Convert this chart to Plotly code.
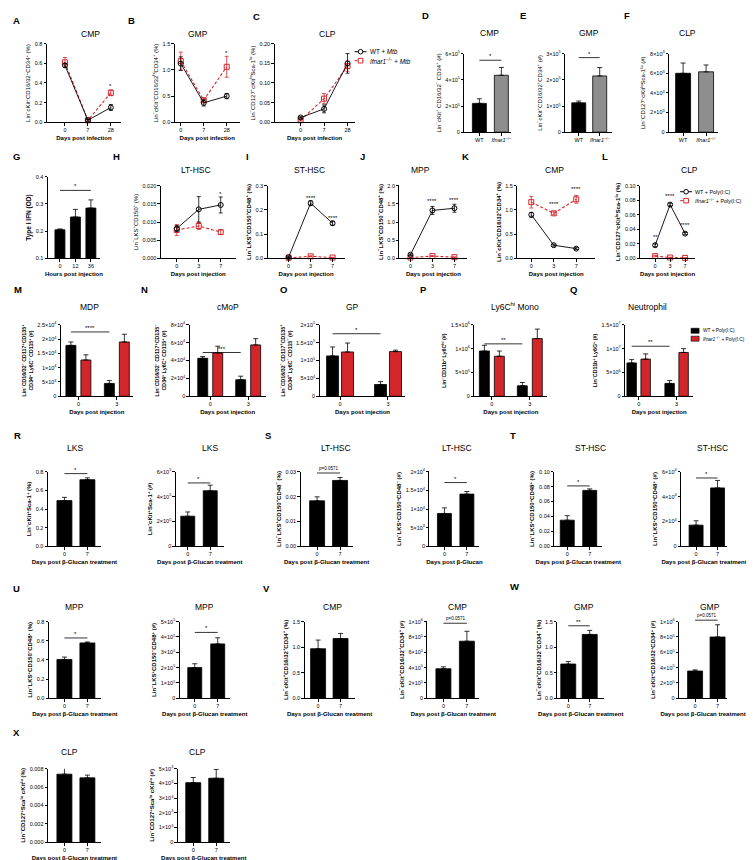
import plotly.graph_objects as go

# ===================== DATA =====================
days_infection = ["0", "7", "28"]
days_injection = ["0", "3", "7"]
hours_injection = ["0", "12", "36"]
days_group = ["0", "3"]
days_glucan = ["0", "7"]
genotypes = ["WT", "<i>Ifnar1</i><sup>−/−</sup>"]

# A-C : Mtb infection, line charts (%)
A_wt = [0.58, 0.02, 0.15]; A_wt_err = [0.02, 0.01, 0.03]
A_ko = [0.61, 0.02, 0.30]; A_ko_err = [0.05, 0.01, 0.03]
A_stars = [(2, 0.37, "*")]
B_wt = [1.12, 0.37, 0.50]; B_wt_err = [0.13, 0.06, 0.05]
B_ko = [1.17, 0.42, 1.06]; B_ko_err = [0.17, 0.04, 0.20]
B_stars = [(2, 1.33, "*")]
C_wt = [0.012, 0.034, 0.150]; C_wt_err = [0.002, 0.010, 0.025]
C_ko = [0.005, 0.060, 0.143]; C_ko_err = [0.002, 0.013, 0.013]
C_stars = []

# D-F : counts (#)
D_vals = [2.2e5, 4.35e5]; D_err = [0.35e5, 0.6e5]; D_sig = (0, 1, 5.5e5, "*")
E_vals = [1.12e5, 2.15e5]; E_err = [0.07e5, 0.32e5]; E_sig = (0, 1, 2.85e5, "*")
F_vals = [6.0e3, 6.15e3]; F_err = [1.05e3, 0.7e3]

# G : type I IFN
G_vals = [0.205, 0.252, 0.285]; G_err = [0.003, 0.028, 0.030]; G_sig = (0, 2, 0.35, "*")

# H-L : Poly(I:C) line charts
H_wt = [0.0082, 0.0135, 0.0147]; H_wt_err = [0.0008, 0.0035, 0.0022]
H_ko = [0.0078, 0.0089, 0.0072]; H_ko_err = [0.0015, 0.0010, 0.0006]
H_stars = [(2, 0.0178, "*")]
I_wt = [0.005, 0.228, 0.145]; I_wt_err = [0.002, 0.010, 0.008]
I_ko = [0.002, 0.008, 0.003]; I_ko_err = [0.001, 0.002, 0.001]
I_stars = [(1, 0.25, "****"), (2, 0.165, "****")]
J_wt = [0.10, 1.32, 1.38]; J_wt_err = [0.02, 0.11, 0.11]
J_ko = [0.02, 0.06, 0.03]; J_ko_err = [0.01, 0.01, 0.01]
J_stars = [(1, 1.58, "****"), (2, 1.62, "****")]
K_wt = [0.90, 0.27, 0.20]; K_wt_err = [0.05, 0.02, 0.02]
K_ko = [1.16, 0.93, 1.22]; K_ko_err = [0.12, 0.03, 0.08]
K_stars = [(1, 1.12, "****"), (2, 1.43, "****")]
L_wt = [0.018, 0.074, 0.034]; L_wt_err = [0.002, 0.002, 0.0015]
L_ko = [0.003, 0.001, 0.0005]; L_ko_err = [0.001, 0.0005, 0.0003]
L_stars = [(0, 0.030, "**"), (1, 0.086, "****"), (2, 0.046, "****")]

# M-Q : grouped bars (WT vs Ifnar1-/- + Poly(I:C))
M_wt = [1.78e4, 0.45e4]; M_wt_err = [0.12e4, 0.10e4]
M_ko = [1.27e4, 1.90e4]; M_ko_err = [0.18e4, 0.27e4]; M_sig = (2.25e4, "****")
N_wt = [4.25e4, 1.85e4]; N_wt_err = [0.20e4, 0.40e4]
N_ko = [4.85e4, 5.75e4]; N_ko_err = [0.75e4, 0.70e4]; N_sig = (4.9e4, "***")
O_wt = [1.13e5, 0.33e5]; O_wt_err = [0.25e5, 0.08e5]
O_ko = [1.24e5, 1.25e5]; O_ko_err = [0.25e5, 0.04e5]; O_sig = (1.75e5, "*")
P_wt = [0.95e6, 0.22e6]; P_wt_err = [0.12e6, 0.07e6]
P_ko = [0.84e6, 1.21e6]; P_ko_err = [0.11e6, 0.20e6]; P_sig = (1.1e6, "**")
Q_wt = [0.70e7, 0.27e7]; Q_wt_err = [0.07e7, 0.06e7]
Q_ko = [0.78e7, 0.92e7]; Q_ko_err = [0.11e7, 0.08e7]; Q_sig = (1.05e7, "**")

# R-X : beta-glucan
R1_vals = [0.49, 0.715]; R1_err = [0.035, 0.02]; R1_sig = (0, 1, 0.78, "*")
R2_vals = [2.42e5, 4.47e5]; R2_err = [0.34e5, 0.45e5]; R2_sig = (0, 1, 5.1e5, "*")
S1_vals = [0.0183, 0.0265]; S1_err = [0.0016, 0.0012]; S1_sig = (0, 1, 0.0295, "p=0.0571")
S2_vals = [0.88e4, 1.40e4]; S2_err = [0.15e4, 0.07e4]; S2_sig = (0, 1, 1.71e4, "*")
T1_vals = [0.035, 0.075]; T1_err = [0.006, 0.002]; T1_sig = (0, 1, 0.081, "*")
T2_vals = [1.7e4, 4.7e4]; T2_err = [0.35e4, 0.6e4]; T2_sig = (0, 1, 5.5e4, "*")
U1_vals = [0.405, 0.578]; U1_err = [0.025, 0.01]; U1_sig = (0, 1, 0.63, "*")
U2_vals = [2.0e5, 3.55e5]; U2_err = [0.25e5, 0.4e5]; U2_sig = (0, 1, 4.3e5, "*")
V1_vals = [0.97, 1.17]; V1_err = [0.17, 0.10]
V2_vals = [3.85e5, 7.45e5]; V2_err = [0.25e5, 1.3e5]; V2_sig = (0, 1, 0.98e6, "p=0.0571")
W1_vals = [0.67, 1.25]; W1_err = [0.05, 0.08]; W1_sig = (0, 1, 1.42, "**")
W2_vals = [3.55e5, 8.0e5]; W2_err = [0.15e5, 1.6e5]; W2_sig = (0, 1, 1.02e6, "p=0.0571")
X1_vals = [0.0074, 0.0070]; X1_err = [0.0010, 0.0003]
X2_vals = [4.05e3, 4.35e3]; X2_err = [0.35e3, 0.6e3]

# y tick values
A_yt = [0, 0.2, 0.4, 0.6, 0.8]
B_yt = [0, 0.5, 1.0, 1.5]
C_yt = [0, 0.05, 0.10, 0.15, 0.20]
D_yt = [0, 2e5, 4e5, 6e5]
E_yt = [0, 1e5, 2e5, 3e5]
F_yt = [0, 2e3, 4e3, 6e3, 8e3]
G_yt = [0.1, 0.2, 0.3, 0.4]
H_yt = [0, 0.005, 0.010, 0.015, 0.020]
I_yt = [0, 0.1, 0.2, 0.3]
J_yt = [0, 0.5, 1.0, 1.5, 2.0]
K_yt = [0, 0.5, 1.0, 1.5]
L_yt = [0, 0.02, 0.04, 0.06, 0.08, 0.10]
M_yt = [0, 5e3, 1e4, 1.5e4, 2e4, 2.5e4]
N_yt = [0, 2e4, 4e4, 6e4, 8e4]
O_yt = [0, 5e4, 1e5, 1.5e5, 2e5]
P_yt = [0, 5e5, 1e6, 1.5e6]
Q_yt = [0, 5e6, 1e7, 1.5e7]
R1_yt = [0, 0.2, 0.4, 0.6, 0.8]
R2_yt = [0, 2e5, 4e5, 6e5]
S1_yt = [0, 0.01, 0.02, 0.03]
S2_yt = [0, 5e3, 1e4, 1.5e4, 2e4]
T1_yt = [0, 0.02, 0.04, 0.06, 0.08, 0.10]
T2_yt = [0, 2e4, 4e4, 6e4]
U1_yt = [0, 0.2, 0.4, 0.6, 0.8]
U2_yt = [0, 1e5, 2e5, 3e5, 4e5, 5e5]
V1_yt = [0, 0.5, 1.0, 1.5]
V2_yt = [0, 2e5, 4e5, 6e5, 8e5, 1e6]
W1_yt = [0, 0.5, 1.0, 1.5]
W2_yt = [0, 2e5, 4e5, 6e5, 8e5, 1e6]
X1_yt = [0, 0.002, 0.004, 0.006, 0.008]
X2_yt = [0, 1e3, 2e3, 3e3, 4e3, 5e3]

# ===================== STYLE / HELPERS =====================
W, H = 754, 860
FONT = "Arial, 'Liberation Sans', Helvetica, sans-serif"
RED = "#d3262b"
GREY = "#8e8e8e"
SUP_M = "<sup>−</sup>"; SUP_P = "<sup>+</sup>"; SUP_LO = "<sup>lo</sup>"; SUP_HI = "<sup>hi</sup>"


def dec(vals, nd):
    return [f"{v:.{nd}f}" for v in vals]


def sci(vals):
    out = []
    for v in vals:
        if v == 0:
            out.append("0")
            continue
        e = 0
        m = v
        while m >= 10:
            m /= 10.0
            e += 1
        while m < 1:
            m *= 10.0
            e -= 1
        out.append(f"{m:g}×10<sup>{e}</sup>")
    return out


fig = go.Figure()
axes_layout = {}
axes_info = {}
shapes = []
annotations = []
counter = [0]


def new_axes(xdom, ydom, xr, yr, xtv, xtt, ytv, ytt, ytitle, xtitle=None, ybold=True, ysize=6.0):
    counter[0] += 1
    n = counter[0]
    s = "" if n == 1 else str(n)
    tickfont = dict(size=5.5, family=FONT, color="black")
    common = dict(showline=True, linecolor="black", linewidth=0.8, ticks="outside", ticklen=2.5,
                  tickwidth=0.8, tickcolor="black", showgrid=False, zeroline=False,
                  tickfont=tickfont, fixedrange=True, tickmode="array")
    xa = dict(common, domain=[xdom[0] / W, xdom[1] / W], range=xr, anchor="y" + s,
              tickvals=xtv, ticktext=xtt)
    if xtitle:
        xa["title"] = dict(text=f"<b>{xtitle}</b>", font=dict(size=6.0, family=FONT, color="black"),
                           standoff=3)
    yt = f"<b>{ytitle}</b>" if ybold else ytitle
    ya = dict(common, domain=[1 - ydom[1] / H, 1 - ydom[0] / H], range=yr, anchor="x" + s,
              tickvals=ytv, ticktext=ytt,
              title=dict(text=yt, font=dict(size=ysize, family=FONT, color="black"), standoff=3))
    axes_layout["xaxis" + s] = xa
    axes_layout["yaxis" + s] = ya
    axes_info["x" + s] = (ydom, yr)
    return "x" + s, "y" + s


def to_paper_y(xa, y):
    (ytop, ybot), (y0, y1) = axes_info[xa]
    py = ybot - (y - y0) / (y1 - y0) * (ybot - ytop)
    return 1 - py / H


def add_sig(xa, ya, xl, xr_, y, text):
    yp = to_paper_y(xa, y)
    shapes.append(dict(type="line", xref=xa, yref="paper", x0=xl, x1=xr_, y0=yp, y1=yp,
                       line=dict(color="black", width=0.8)))
    small = text.startswith("p=")
    annotations.append(dict(x=(xl + xr_) / 2, y=yp, xref=xa, yref="paper", text=text, showarrow=False,
                            yanchor="bottom", yshift=-1 if not small else 0,
                            font=dict(size=4.5 if small else 6, family=FONT, color="black")))


def line_panel(spec, cats, wt, wt_e, ko, ko_e, yt, ytt, ytitle, xtitle, stars, ybold=False):
    x0, x1, p0, step, ytop, ybot = spec
    xr = [(x0 - p0) / step, (x1 - p0) / step]
    xs = list(range(len(cats)))
    xa, ya = new_axes((x0, x1), (ytop, ybot), xr, [yt[0], yt[-1]], xs, cats, yt, ytt,
                      ytitle, xtitle, ybold)
    fig.add_trace(go.Scatter(x=xs, y=ko, mode="lines+markers", xaxis=xa, yaxis=ya,
                             line=dict(color=RED, width=1.1, dash="3px,2px"),
                             marker=dict(symbol="square-open", size=5, color=RED,
                                         line=dict(width=1, color=RED)),
                             error_y=dict(type="data", array=ko_e, color=RED, thickness=0.8, width=2),
                             showlegend=False, cliponaxis=False))
    fig.add_trace(go.Scatter(x=xs, y=wt, mode="lines+markers", xaxis=xa, yaxis=ya,
                             line=dict(color="black", width=0.9),
                             marker=dict(symbol="circle-open", size=5, color="black",
                                         line=dict(width=1, color="black")),
                             error_y=dict(type="data", array=wt_e, color="black", thickness=0.8, width=2),
                             showlegend=False, cliponaxis=False))
    for (i, y, t) in stars:
        annotations.append(dict(x=i, y=to_paper_y(xa, y), xref=xa, yref="paper", text=t,
                                showarrow=False, yanchor="middle",
                                font=dict(size=6, family=FONT, color="black")))


def bar_panel(spec, cats, vals, errs, colors, yt, ytt, ytitle, xtitle=None, sig=None, ybold=True,
              ysize=6.0):
    x0, x1, c0, step, bw, ytop, ybot = spec
    xr = [(x0 - c0) / step, (x1 - c0) / step]
    xs = list(range(len(cats)))
    xa, ya = new_axes((x0, x1), (ytop, ybot), xr, [yt[0], yt[-1]], xs, cats, yt, ytt,
                      ytitle, xtitle, ybold, ysize)
    fig.add_trace(go.Bar(x=xs, y=vals, width=bw / step, xaxis=xa, yaxis=ya, showlegend=False,
                         marker=dict(color=colors, line=dict(color="black", width=0.8)),
                         error_y=dict(type="data", symmetric=False, array=errs,
                                      arrayminus=[0] * len(vals), color="black",
                                      thickness=0.8, width=2.5)))
    if sig:
        add_sig(xa, ya, sig[0], sig[1], sig[2], sig[3])


def group_panel(spec, cats, wt, wt_e, ko, ko_e, yt, ytt, ytitle, xtitle, sig):
    x0, x1, g0, g1, bw, off, ytop, ybot = spec
    step = g1 - g0
    xr = [(x0 - g0) / step, (x1 - g0) / step]
    xs = list(range(len(cats)))
    w = bw / step
    d = off / step
    xa, ya = new_axes((x0, x1), (ytop, ybot), xr, [yt[0], yt[-1]], xs, cats, yt, ytt,
                      ytitle, xtitle, True, 5.3)
    for vals, errs, col, o in ((wt, wt_e, "black", -d), (ko, ko_e, RED, d)):
        fig.add_trace(go.Bar(x=xs, y=vals, width=w, offset=o - w / 2, xaxis=xa, yaxis=ya,
                             showlegend=False,
                             marker=dict(color=col, line=dict(color="black", width=0.8)),
                             error_y=dict(type="data", symmetric=False, array=errs,
                                          arrayminus=[0] * len(vals), color="black",
                                          thickness=0.8, width=2.5)))
    add_sig(xa, ya, -d, 1 - d, sig[0], sig[1])


def title(text, x, y, size=8.5):
    annotations.append(dict(x=x / W, y=1 - y / H, xref="paper", yref="paper", text=text,
                            showarrow=False, xanchor="center", yanchor="middle",
                            font=dict(size=size, family=FONT, color="black")))


def letter(text, x, y):
    annotations.append(dict(x=x / W, y=1 - y / H, xref="paper", yref="paper", text=f"<b>{text}</b>",
                            showarrow=False, xanchor="left", yanchor="middle",
                            font=dict(size=9.5, family=FONT, color="black")))


def legend_line(x, y, color, symbol, dash, text, size=6.3):
    shapes.append(dict(type="line", xref="paper", yref="paper", x0=(x - 6) / W, x1=(x + 6) / W,
                       y0=1 - y / H, y1=1 - y / H,
                       line=dict(color=color, width=1, dash="dot" if dash else "solid")))
    shapes.append(dict(type=symbol, xref="paper", yref="paper", xsizemode="pixel", ysizemode="pixel",
                       xanchor=x / W, yanchor=1 - y / H, x0=-2.3, x1=2.3, y0=-2.3, y1=2.3,
                       fillcolor="white", line=dict(color=color, width=1)))
    annotations.append(dict(x=(x + 7) / W, y=1 - y / H, xref="paper", yref="paper", text=text,
                            showarrow=False, xanchor="left", yanchor="middle",
                            font=dict(size=size, family=FONT, color="black")))


def legend_box(x, y, color, text):
    shapes.append(dict(type="rect", xref="paper", yref="paper", xsizemode="pixel", ysizemode="pixel",
                       xanchor=x / W, yanchor=1 - y / H, x0=-4, x1=4, y0=-2.5, y1=2.5,
                       fillcolor=color, line=dict(color="black", width=0.6)))
    annotations.append(dict(x=(x + 6) / W, y=1 - y / H, xref="paper", yref="paper", text=text,
                            showarrow=False, xanchor="left", yanchor="middle",
                            font=dict(size=4.8, family=FONT, color="black")))


# ===================== LABEL TEXTS =====================
lab_cmp = f"Lin{SUP_M}cKit{SUP_P}CD16/32{SUP_P}CD34{SUP_P}"
lab_gmp_hi = f"Lin{SUP_M}cKit{SUP_P}CD16/32{SUP_HI}CD34{SUP_P}"
lab_clp = f"Lin{SUP_M}CD127{SUP_P}cKit{SUP_LO}Sca-1{SUP_LO}"
lab_lt = f"Lin{SUP_M}LKS{SUP_P}CD150{SUP_P}CD48{SUP_M}"
lab_st = f"Lin{SUP_M}LKS{SUP_P}CD150{SUP_P}CD48{SUP_P}"
lab_mpp = f"Lin{SUP_M}LKS{SUP_P}CD150{SUP_M}CD48{SUP_P}"
x_inf = "Days post infection"
x_inj = "Days post injection"
x_glu = "Days post β-Glucan treatment"

# ===================== ROW 1 =====================
line_panel((39, 113, 57, 23, 33, 112), days_infection, A_wt, A_wt_err, A_ko, A_ko_err,
           A_yt, dec(A_yt, 1), lab_cmp + " (%)", x_inf, A_stars)
line_panel((167, 232, 173, 23, 33, 112), days_infection, B_wt, B_wt_err, B_ko, B_ko_err,
           B_yt, dec(B_yt, 1), lab_gmp_hi + " (%)", x_inf, B_stars)
line_panel((267, 347, 293, 23.5, 33, 112), days_infection, C_wt, C_wt_err, C_ko, C_ko_err,
           C_yt, dec(C_yt, 2), lab_clp + " (%)", x_inf, C_stars)
bar_panel((457, 504, 472, 22, 14, 43, 122), genotypes, D_vals, D_err, ["black", GREY],
          D_yt, sci(D_yt), f"Lin{SUP_M}cKit{SUP_P} CD16/32{SUP_M} CD34{SUP_P} (#)", None, D_sig, False)
bar_panel((558, 605, 571.5, 21, 14, 43, 122), genotypes, E_vals, E_err, ["black", GREY],
          E_yt, sci(E_yt), lab_cmp + " (#)", None, E_sig, False)
bar_panel((662, 711, 676, 23, 15, 43, 122), genotypes, F_vals, F_err, ["black", GREY],
          F_yt, sci(F_yt), lab_clp + " (#)", None, None, False)

# ===================== ROW 2 =====================
bar_panel((40, 92, 52, 15.5, 10, 167, 249), hours_injection, G_vals, G_err, ["black"] * 3,
          G_yt, dec(G_yt, 1), "Type I IFN (OD)", "Hours post injection", G_sig, True, 6.5)
line_panel((153, 228, 169, 22, 176, 249), days_injection, H_wt, H_wt_err, H_ko, H_ko_err,
           H_yt, dec(H_yt, 3), f"Lin{SUP_M}LKS{SUP_P}CD150{SUP_P} (%)", x_inj, H_stars)
line_panel((260, 337, 281, 22, 176, 249), days_injection, I_wt, I_wt_err, I_ko, I_ko_err,
           I_yt, dec(I_yt, 1), lab_st + " (%)", x_inj, I_stars, True)
line_panel((392, 460, 403, 22, 176, 249), days_injection, J_wt, J_wt_err, J_ko, J_ko_err,
           J_yt, dec(J_yt, 1), lab_mpp + " (%)", x_inj, J_stars, True)
line_panel((510, 588, 524, 22.5, 176, 249), days_injection, K_wt, K_wt_err, K_ko, K_ko_err,
           K_yt, dec(K_yt, 1), lab_cmp + " (%)", x_inj, K_stars, True)
line_panel((633, 688, 648, 15, 176, 249), days_injection, L_wt, L_wt_err, L_ko, L_ko_err,
           L_yt, dec(L_yt, 2), lab_clp + " (%)", x_inj, L_stars, True)

# ===================== ROW 3 =====================
group_panel((53, 125, 70.5, 109, 10, 7.5, 316, 388), days_group, M_wt, M_wt_err, M_ko, M_ko_err,
            M_yt, sci(M_yt),
            f"Lin{SUP_M}CD16/32{SUP_M} CD117{SUP_P}CD135{SUP_P}<br>CD34{SUP_P} Ly6C{SUP_M} CD115{SUP_P} (#)",
            x_inj, M_sig)
group_panel((182, 258, 202.5, 240.5, 10, 7.5, 316, 388), days_group, N_wt, N_wt_err, N_ko, N_ko_err,
            N_yt, sci(N_yt),
            f"Lin{SUP_M}CD16/32{SUP_M} CD117{SUP_P}CD135{SUP_M}<br>CD34{SUP_P} Ly6C{SUP_P} CD115{SUP_P} (#)",
            x_inj, N_sig)
group_panel((312, 398, 332.5, 380.5, 12, 7.5, 316, 388), days_group, O_wt, O_wt_err, O_ko, O_ko_err,
            O_yt, sci(O_yt),
            f"Lin{SUP_M}CD16/32{SUP_M} CD117{SUP_P}CD135{SUP_P}<br>CD34{SUP_P} Ly6C{SUP_M} CD115{SUP_M} (#)",
            x_inj, O_sig)
group_panel((467, 540, 484.5, 522.5, 10, 7.5, 316, 388), days_group, P_wt, P_wt_err, P_ko, P_ko_err,
            P_yt, sci(P_yt), f"Lin{SUP_M}CD11b{SUP_P} Ly6C{SUP_HI} (#)", x_inj, P_sig)
group_panel((618, 686, 631.5, 669.5, 9.5, 7, 316, 388), days_group, Q_wt, Q_wt_err, Q_ko, Q_ko_err,
            Q_yt, sci(Q_yt), f"Lin{SUP_M}CD11b{SUP_P} Ly6G{SUP_P} (#)", x_inj, Q_sig)

# ===================== ROW 4 =====================
blk = ["black", "black"]
bar_panel((40, 93, 56.5, 23, 15, 464, 539), days_glucan, R1_vals, R1_err, blk,
          R1_yt, dec(R1_yt, 1), f"Lin{SUP_M}cKit{SUP_P}Sca-1{SUP_P} (%)", x_glu, R1_sig)
bar_panel((168, 216, 180, 22.5, 14, 464, 539), days_glucan, R2_vals, R2_err, blk,
          R2_yt, sci(R2_yt), f"Lin{SUP_M}cKit{SUP_P}Sca-1{SUP_P} (#)", x_glu, R2_sig)
bar_panel((293, 345, 309.5, 23, 15, 464, 539), days_glucan, S1_vals, S1_err, blk,
          S1_yt, dec(S1_yt, 2), lab_lt + " (%)", x_glu, S1_sig)
bar_panel((422, 472, 437, 22.5, 14, 464, 539), days_glucan, S2_vals, S2_err, blk,
          S2_yt, sci(S2_yt), lab_lt + " (#)", "Days post β-Glucan", S2_sig)
bar_panel((547, 595, 560, 22.5, 14, 464, 539), days_glucan, T1_vals, T1_err, blk,
          T1_yt, dec(T1_yt, 2), lab_st + " (%)", x_glu, T1_sig)
bar_panel((674, 720, 689, 21.5, 14, 464, 539), days_glucan, T2_vals, T2_err, blk,
          T2_yt, sci(T2_yt), lab_st + " (#)", x_glu, T2_sig)

# ===================== ROW 5 =====================
bar_panel((41, 93, 56.5, 23, 15, 615, 692), days_glucan, U1_vals, U1_err, blk,
          U1_yt, dec(U1_yt, 1), lab_mpp + " (%)", x_glu, U1_sig)
bar_panel((172, 222, 187, 23, 14, 615, 692), days_glucan, U2_vals, U2_err, blk,
          U2_yt, sci(U2_yt), lab_mpp + " (#)", x_glu, U2_sig)
bar_panel((297, 347, 310.5, 22.5, 15, 615, 692), days_glucan, V1_vals, V1_err, blk,
          V1_yt, dec(V1_yt, 1), lab_cmp + " (%)", x_glu, None)
bar_panel((420, 472, 436, 23.5, 15, 615, 692), days_glucan, V2_vals, V2_err, blk,
          V2_yt, sci(V2_yt), lab_cmp + " (#)", x_glu, V2_sig)
bar_panel((550, 597, 561, 21.5, 15, 615, 692), days_glucan, W1_vals, W1_err, blk,
          W1_yt, dec(W1_yt, 1), lab_cmp + " (%)", x_glu, W1_sig)
bar_panel((672, 720, 688, 22.5, 15, 615, 692), days_glucan, W2_vals, W2_err, blk,
          W2_yt, sci(W2_yt), lab_cmp + " (#)", x_glu, W2_sig)

# ===================== ROW 6 =====================
lab_clp2 = f"Lin{SUP_M}CD127{SUP_P}Sca{SUP_LO} cKit{SUP_LO}"
bar_panel((40, 93, 56.5, 23, 15, 763, 837), days_glucan, X1_vals, X1_err, blk,
          X1_yt, dec(X1_yt, 3), lab_clp2 + " (%)", x_glu, None)
bar_panel((170, 222, 185.5, 23, 15, 763, 837), days_glucan, X2_vals, X2_err, blk,
          X2_yt, sci(X2_yt), lab_clp2 + " (#)", x_glu, None)

# ===================== TITLES & LETTERS =====================
panel_titles = [
    ("CMP", 83, 23), ("GMP", 190, 23), ("CLP", 320, 23),
    ("CMP", 482, 22), ("GMP", 582, 22), ("CLP", 680, 22),
    ("LT-HSC", 188, 160), ("ST-HSC", 302, 160), ("MPP", 413, 160), ("CMP", 547, 160), ("CLP", 682, 160),
    ("MDP", 82, 298), ("cMoP", 220, 298), ("GP", 345, 298), ("Ly6C<sup>hi</sup> Mono", 508, 298),
    ("Neutrophil", 640, 298),
    ("LKS", 67, 440), ("LKS", 202, 440), ("LT-HSC", 328, 440), ("LT-HSC", 450, 440),
    ("ST-HSC", 583, 440), ("ST-HSC", 705, 440),
    ("MPP", 67, 600), ("MPP", 197, 600), ("CMP", 325, 600), ("CMP", 450, 600),
    ("GMP", 577, 600), ("GMP", 703, 600),
    ("CLP", 62, 746), ("CLP", 190, 746),
]
for t, x, y in panel_titles:
    title(t, x, y)

panel_letters = [
    ("A", 3, 10), ("B", 118, 10), ("C", 243, 6), ("D", 413, 5), ("E", 511, 5), ("F", 615, 5),
    ("G", 3, 147), ("H", 103, 147), ("I", 236, 147), ("J", 350, 147), ("K", 453, 147), ("L", 593, 147),
    ("M", 4, 280), ("N", 131, 280), ("O", 270, 280), ("P", 411, 280), ("Q", 561, 280),
    ("R", 4, 427), ("S", 255, 427), ("T", 501, 427),
    ("U", 3, 582), ("V", 253, 582), ("W", 501, 580),
    ("X", 3, 727),
]
for t, x, y in panel_letters:
    letter(t, x, y)

# ===================== LEGENDS =====================
legend_line(353, 41, "black", "circle", False, "WT + <i>Mtb</i>")
legend_line(353, 50, RED, "rect", True, "<i>Ifnar1</i><sup>−/−</sup> + <i>Mtb</i>")
legend_line(679, 182, "black", "circle", False, "WT + Poly(I:C)", 5.4)
legend_line(679, 191, RED, "rect", True, "<i>Ifnar1</i><sup>−/−</sup> + Poly(I:C)", 5.4)
legend_box(688, 322, "black", "WT + Poly(I:C)")
legend_box(688, 330, RED, "<i>Ifnar1</i><sup>−/−</sup> + Poly(I:C)")

fig.update_layout(**axes_layout)
fig.update_layout(width=W, height=H, margin=dict(l=0, r=0, t=0, b=0),
                  paper_bgcolor="white", plot_bgcolor="white", barmode="overlay",
                  showlegend=False, shapes=shapes, annotations=annotations,
                  font=dict(family=FONT, color="black"))
fig.write_html("out.html")
